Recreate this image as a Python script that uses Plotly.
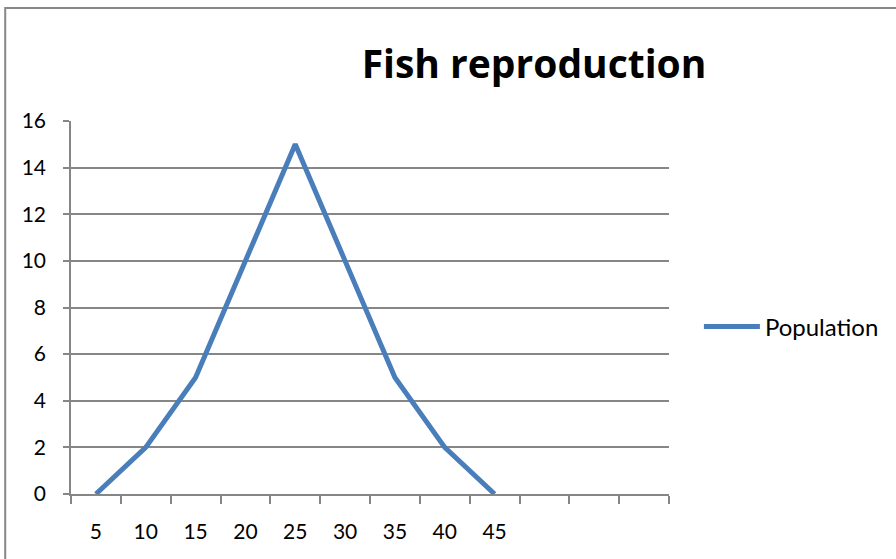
import plotly.graph_objects as go

categories = ["5", "10", "15", "20", "25", "30", "35", "40", "45"]
population = [0, 2, 5, 10, 15, 10, 5, 2, 0]
blank_slots = [" ", "  ", "   "]
y_ticks = [0, 2, 4, 6, 8, 10, 12, 14, 16]

grid = "#868686"
font = "Lato, 'Open Sans', sans-serif"

fig = go.Figure()
fig.add_trace(go.Scatter(
    x=categories, y=population, mode="lines", name="Population",
    line=dict(color="#4A7EBB", width=5),
))

fig.update_layout(
    width=896, height=559,
    margin=dict(l=71, r=225, t=121, b=65),
    paper_bgcolor="white", plot_bgcolor="white",
    title=dict(text="<b>Fish reproduction</b>", x=534/896, xanchor="center",
               y=1 - 64/559, yanchor="middle",
               font=dict(family="'Open Sans', sans-serif", size=39, color="black")),
    showlegend=True,
    legend=dict(x=(701-71)/600, xanchor="left", y=(494-327)/373, yanchor="middle",
                font=dict(family=font, size=24, color="black"),
                bgcolor="rgba(0,0,0,0)", itemwidth=56),
    font=dict(family=font, size=22, color="black"),
)

fig.update_xaxes(
    type="category", categoryorder="array",
    categoryarray=categories + blank_slots,
    range=[-0.5, len(categories) + len(blank_slots) - 0.5],
    tickson="boundaries", ticks="outside", ticklen=8, tickwidth=1.5, tickcolor=grid,
    showline=True, linecolor=grid, linewidth=1.5,
    showgrid=False, zeroline=False, ticklabelstandoff=18,
    tickfont=dict(family=font, size=21, color="black"),
)
fig.update_yaxes(
    range=[0, 16], tickvals=y_ticks, ticktext=[str(v) for v in y_ticks],
    ticks="outside", ticklen=6, tickwidth=1.5, tickcolor=grid,
    showline=True, linecolor=grid, linewidth=1.5,
    showgrid=True, gridcolor=grid, gridwidth=1.5, zeroline=False,
    ticklabelstandoff=13,
    tickfont=dict(family=font, size=21, color="black"),
)

fig.add_shape(type="rect", xref="paper", yref="paper",
              x0=(5-71)/600, x1=2, y0=-1, y1=(494-8)/373,
              line=dict(color="#878787", width=2), fillcolor="rgba(0,0,0,0)", layer="below")

fig.write_html("out.html", config={"displayModeBar": False},
               post_script="document.body.style.margin='0';")
